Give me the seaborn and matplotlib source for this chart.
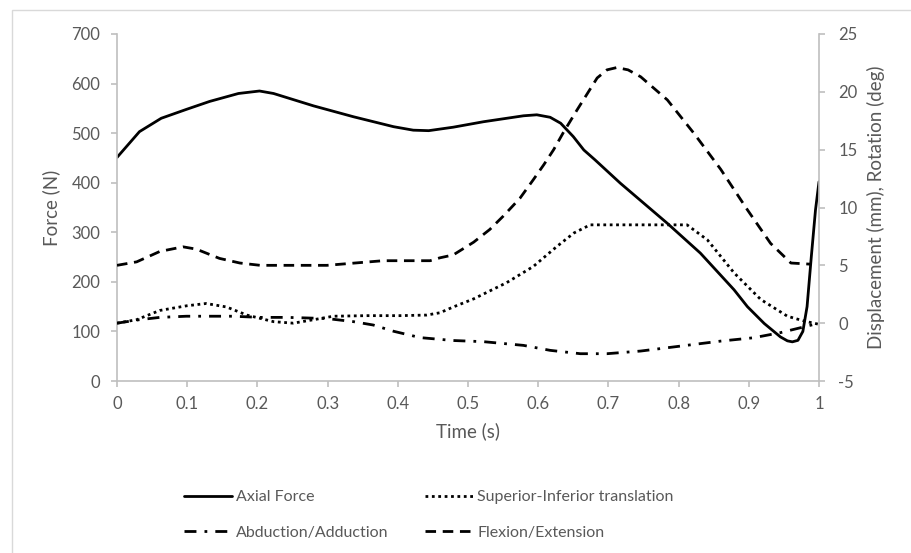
import matplotlib
matplotlib.use('Agg')
import matplotlib.pyplot as plt
from matplotlib.patches import Rectangle
import pandas as pd
import seaborn as sns

# values
t_force = [0, 0.032, 0.063, 0.099, 0.132, 0.173, 0.203, 0.223, 0.28, 0.337, 0.394, 0.422,
           0.444, 0.479, 0.522, 0.579, 0.598, 0.617, 0.632, 0.650, 0.665, 0.681, 0.717,
           0.784, 0.831, 0.879, 0.898, 0.922, 0.945, 0.955, 0.962, 0.970, 0.977, 0.983,
           0.989, 0.995, 1.0]
axial_force = [451, 503, 530, 548, 564, 580, 585, 580, 555, 533, 513, 506,
               505, 512, 523, 535, 537, 532, 520, 493, 466, 446, 399,
               318, 258, 184, 150, 116, 89, 81, 79, 82, 100, 150,
               250, 345, 402]

t_si = [0, 0.028, 0.061, 0.099, 0.127, 0.156, 0.185, 0.223, 0.251, 0.28, 0.308, 0.356,
        0.403, 0.441, 0.46, 0.479, 0.508, 0.555, 0.593, 0.627, 0.651, 0.674, 0.812,
        0.841, 0.879, 0.917, 0.955, 0.979, 1.0]
sup_inf = [0, 0.3, 1.1, 1.5, 1.7, 1.4, 0.7, 0.13, 0.0, 0.3, 0.6, 0.65,
           0.65, 0.7, 0.9, 1.4, 2.1, 3.5, 4.9, 6.65, 7.8, 8.5, 8.5,
           7.2, 4.35, 2.05, 0.6, 0.18, -0.1]

t_ab = [0, 0.032, 0.061, 0.099, 0.165, 0.204, 0.242, 0.299, 0.337, 0.365, 0.394, 0.432,
        0.479, 0.522, 0.579, 0.617, 0.660, 0.698, 0.746, 0.803, 0.860, 0.907, 0.945,
        0.974, 1.0]
abd_add = [0, 0.3, 0.5, 0.6, 0.6, 0.5, 0.5, 0.4, 0.13, -0.16, -0.7, -1.25,
           -1.5, -1.6, -1.92, -2.35, -2.64, -2.64, -2.41, -1.98, -1.55, -1.26, -0.82,
           -0.39, 0.0]

t_fe = [0, 0.028, 0.061, 0.094, 0.113, 0.146, 0.175, 0.204, 0.299, 0.379, 0.446, 0.46,
        0.479, 0.508, 0.531, 0.550, 0.574, 0.593, 0.608, 0.622, 0.636, 0.655, 0.684,
        0.698, 0.712, 0.728, 0.746, 0.784, 0.822, 0.860, 0.898, 0.931, 0.960, 0.988]
flex_ext = [5.0, 5.3, 6.2, 6.6, 6.4, 5.6, 5.2, 5.0, 5.0, 5.4, 5.4, 5.65,
            5.9, 7.0, 8.1, 9.24, 10.8, 12.4, 13.7, 15.0, 16.5, 18.4, 21.2,
            21.9, 22.1, 21.9, 21.3, 19.3, 16.4, 13.3, 9.8, 6.9, 5.2, 5.1]

x_ticks = [0, 0.1, 0.2, 0.3, 0.4, 0.5, 0.6, 0.7, 0.8, 0.9, 1]
x_ticklabels = ['0', '0.1', '0.2', '0.3', '0.4', '0.5', '0.6', '0.7', '0.8', '0.9', '1']

sns.set_style('white')
plt.rcParams['font.family'] = ['Lato', 'DejaVu Sans']
plt.rcParams['axes.unicode_minus'] = False

grey = '#bfbfbf'
txt = '#595959'

fig = plt.figure(figsize=(9.12, 5.53), dpi=100)
ax = fig.add_axes([117 / 912, 1 - 381 / 553, 702 / 912, 347 / 553])
ax2 = ax.twinx()

df_force = pd.DataFrame({'t': t_force, 'v': axial_force})
df_si = pd.DataFrame({'t': t_si, 'v': sup_inf})
df_ab = pd.DataFrame({'t': t_ab, 'v': abd_add})
df_fe = pd.DataFrame({'t': t_fe, 'v': flex_ext})

lw = 2.0
sns.lineplot(data=df_force, x='t', y='v', ax=ax, color='black', lw=lw,
             estimator=None, sort=False, label='Axial Force')
sns.lineplot(data=df_si, x='t', y='v', ax=ax2, color='black', lw=lw,
             linestyle=(0, (1, 1.3)), estimator=None, sort=False,
             label='Superior-Inferior translation')
sns.lineplot(data=df_ab, x='t', y='v', ax=ax2, color='black', lw=lw,
             linestyle=(0, (4.3, 2.9, 1, 2.9)), estimator=None, sort=False,
             label='Abduction/Adduction')
sns.lineplot(data=df_fe, x='t', y='v', ax=ax2, color='black', lw=lw,
             linestyle=(0, (3.8, 2.4)), estimator=None, sort=False,
             label='Flexion/Extension')

ax.set_xlim(0, 1)
ax.set_ylim(0, 700)
ax2.set_ylim(-5, 25)
ax.set_xticks(x_ticks)
ax.set_xticklabels(x_ticklabels)
ax.set_yticks(range(0, 701, 100))
ax2.set_yticks(range(-5, 26, 5))

for a in (ax, ax2):
    for s in a.spines.values():
        s.set_color(grey)
        s.set_linewidth(1.2)
    a.spines['top'].set_visible(False)
    a.tick_params(colors=grey, labelcolor=txt, labelsize=12, length=4, width=1.2)
ax.spines['right'].set_visible(False)
ax2.spines['left'].set_visible(False)
ax2.spines['bottom'].set_visible(False)
ax.tick_params(axis='y', pad=8, left=True)
ax.tick_params(axis='x', pad=7, bottom=True)
ax2.tick_params(axis='y', pad=10, right=True)

ax.set_xlabel('Time (s)', fontsize=13.5, color=txt, labelpad=7)
ax.set_ylabel('Force (N)', fontsize=13.5, color=txt, labelpad=8)
ax2.set_ylabel('Displacement (mm), Rotation (deg)', fontsize=13.5, color=txt, labelpad=7)

h1, l1 = ax.get_legend_handles_labels()
h2, l2 = ax2.get_legend_handles_labels()
ax.get_legend().remove()
ax2.get_legend().remove()
handles = {**dict(zip(l1, h1)), **dict(zip(l2, h2))}
order = ['Axial Force', 'Abduction/Adduction', 'Superior-Inferior translation', 'Flexion/Extension']
fig.legend([handles[k] for k in order], order, ncol=2, frameon=False,
           loc='upper left', bbox_to_anchor=(176 / 912, 1 - 482 / 553),
           borderpad=0, handlelength=3.0, handletextpad=0.25, columnspacing=2.3,
           labelspacing=1.35, prop={'size': 11.5}, labelcolor=txt)

# light frame of the chart area
fig.patches.append(Rectangle((12 / 912, -0.02), 1.0, 1 - 10 / 553 + 0.02,
                             transform=fig.transFigure, fill=False,
                             edgecolor='#d9d9d9', lw=1))

fig.savefig('out.png', dpi=100, facecolor='white')
